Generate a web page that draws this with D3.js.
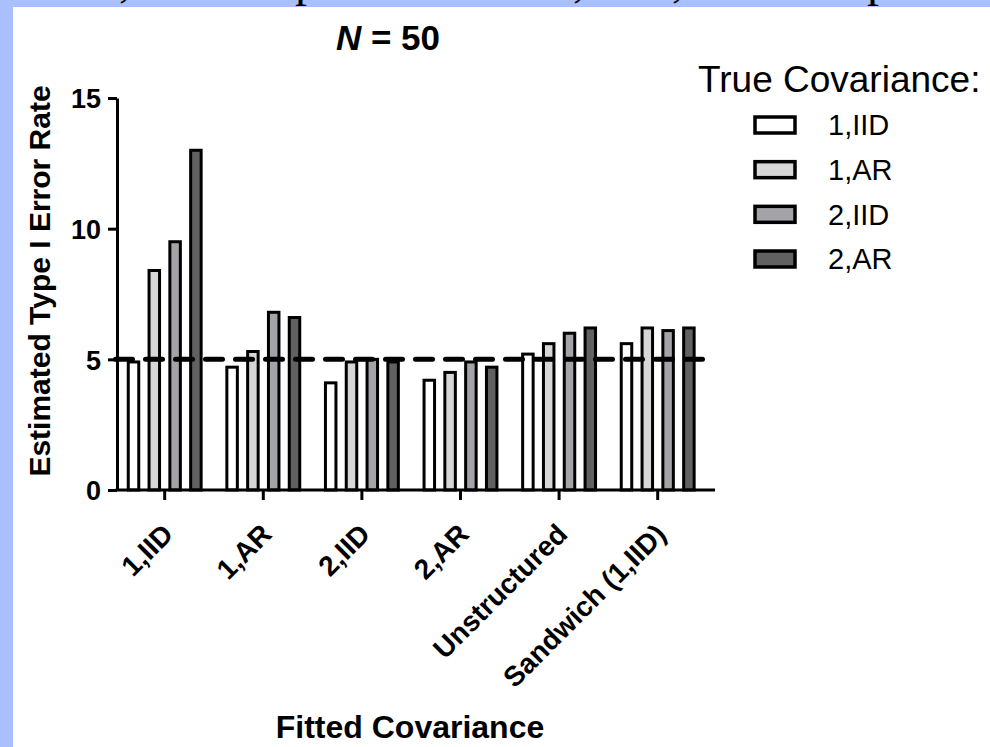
<!DOCTYPE html>
<html>
<head>
<meta charset="utf-8">
<script src="https://cdn.jsdelivr.net/npm/d3@7"></script>
<style>
  html, body { margin: 0; padding: 0; background: #ffffff; }
  svg { display: block; }
  text { font-family: "Liberation Sans", Arial, sans-serif; fill: #000; }
</style>
</head>
<body>
<svg id="chart" width="990" height="747"></svg>
<script>
// Fitted covariance structures (x categories) and true covariance (series)
const fittedCov = ["1,IID", "1,AR", "2,IID", "2,AR", "Unstructured", "Sandwich (1,IID)"];
const trueCov = ["1,IID", "1,AR", "2,IID", "2,AR"];

// Estimated Type I error rate (%) per fitted covariance, one array per true covariance
const rate1IID = [4.9, 4.7, 4.1, 4.2, 5.2, 5.6];
const rate1AR  = [8.4, 5.3, 4.9, 4.5, 5.6, 6.2];
const rate2IID = [9.5, 6.8, 5.0, 4.9, 6.0, 6.1];
const rate2AR  = [13.0, 6.6, 4.9, 4.7, 6.2, 6.2];

const yTicks = [0, 5, 10, 15];
const nominalRate = 5;
const sampleSize = 50;

const seriesValues = [rate1IID, rate1AR, rate2IID, rate2AR];
const fills = ["#ffffff", "#d7d7d7", "#a3a3a8", "#616161"];

const svg = d3.select("#chart");
const W = 990, H = 747;

// page frame: light blue strip with the bottom of a cut-off heading line
svg.append("rect").attr("x", 0).attr("y", 0).attr("width", W).attr("height", H).attr("fill", "#a9bffe");
const heading = [[125, ","], [307, "p"], [579, ","], [678, ","], [879, "p"]];
svg.append("g").selectAll("text").data(heading).join("text")
  .attr("x", d => d[0]).attr("y", -4)
  .attr("text-anchor", "middle")
  .style("font-family", "'Liberation Serif', 'Times New Roman', serif")
  .style("font-size", "48px")
  .text(d => d[1]);
svg.append("rect").attr("x", 13).attr("y", 7).attr("width", W - 13).attr("height", H - 7).attr("fill", "#ffffff");

// scales
const x = d3.scaleBand().domain(fittedCov).range([115.4, 707]).padding(0);
const xs = d3.scaleBand().domain(trueCov).range([-41.6, 41.6]).padding(0);
const y = d3.scaleLinear().domain([0, 15]).range([490, 98]);
const barW = 10.5;
const axisLeftX = 117, axisRightX = 715;

// bars
const gBars = svg.append("g");
trueCov.forEach((s, si) => {
  gBars.append("g").selectAll("rect")
    .data(fittedCov.map((c, ci) => ({ c, v: seriesValues[si][ci] })))
    .join("rect")
    .attr("x", d => x(d.c) + x.bandwidth() / 2 + xs(s) + (xs.bandwidth() - barW) / 2)
    .attr("y", d => y(d.v))
    .attr("width", barW)
    .attr("height", d => y(0) - y(d.v))
    .attr("fill", fills[si])
    .attr("stroke", "#000")
    .attr("stroke-width", 3);
});

// nominal 5% reference line
svg.append("line")
  .attr("x1", axisLeftX - 1.5).attr("x2", axisRightX - 1)
  .attr("y1", y(nominalRate)).attr("y2", y(nominalRate))
  .attr("stroke", "#000").attr("stroke-width", 5)
  .attr("stroke-linecap", "round")
  .attr("stroke-dasharray", "17,13");

// y axis
const yAxis = svg.append("g").attr("transform", `translate(${axisLeftX},0)`)
  .call(d3.axisLeft(y).tickValues(yTicks).tickSize(9).tickSizeOuter(0).tickPadding(7));
yAxis.select(".domain").attr("stroke-width", 3);
yAxis.selectAll(".tick line").attr("stroke-width", 3);
yAxis.selectAll(".tick text")
  .style("font-size", "27px").style("font-weight", "bold")
  .attr("dy", "0.36em");

// x axis
const xAxis = svg.append("g").attr("transform", `translate(0,${y(0)})`)
  .call(d3.axisBottom(x).tickSize(10).tickSizeOuter(0).tickFormat(""));
xAxis.select(".domain").remove();
xAxis.selectAll(".tick line").attr("stroke-width", 3);
svg.append("line")
  .attr("x1", axisLeftX - 1.5).attr("x2", axisRightX)
  .attr("y1", y(0)).attr("y2", y(0))
  .attr("stroke", "#000").attr("stroke-width", 3);

svg.append("g").selectAll("text").data(fittedCov).join("text")
  .attr("transform", d => `translate(${x(d) + x.bandwidth() / 2 + 10},${y(0) + 46}) rotate(-45)`)
  .attr("text-anchor", "end")
  .style("font-size", "28px").style("font-weight", "bold")
  .text(d => d);

// axis titles
svg.append("text")
  .attr("transform", `translate(50,281) rotate(-90)`)
  .attr("text-anchor", "middle")
  .style("font-size", "30px").style("font-weight", "bold")
  .text("Estimated Type I Error Rate");

svg.append("text")
  .attr("x", 410).attr("y", 738)
  .attr("text-anchor", "middle")
  .style("font-size", "32px").style("font-weight", "bold")
  .text("Fitted Covariance");

// chart title
const title = svg.append("text")
  .attr("x", 388).attr("y", 50)
  .attr("text-anchor", "middle")
  .style("font-size", "35px").style("font-weight", "bold");
title.append("tspan").style("font-style", "italic").text("N");
title.append("tspan").text(` = ${sampleSize}`);

// legend
const leg = svg.append("g");
leg.append("text")
  .attr("x", 698).attr("y", 92)
  .style("font-size", "37px")
  .text("True Covariance:");
const legRow = d3.scalePoint().domain(trueCov).range([125, 259]);
const legItems = leg.selectAll("g.item").data(trueCov).join("g").attr("class", "item")
  .attr("transform", d => `translate(0,${legRow(d)})`);
legItems.append("rect")
  .attr("x", 755).attr("y", -8).attr("width", 40).attr("height", 16)
  .attr("fill", (d, i) => fills[i])
  .attr("stroke", "#000").attr("stroke-width", 3.5);
legItems.append("text")
  .attr("x", 828).attr("y", 0).attr("dy", "0.36em")
  .style("font-size", "29px")
  .text(d => d);
</script>
</body>
</html>
